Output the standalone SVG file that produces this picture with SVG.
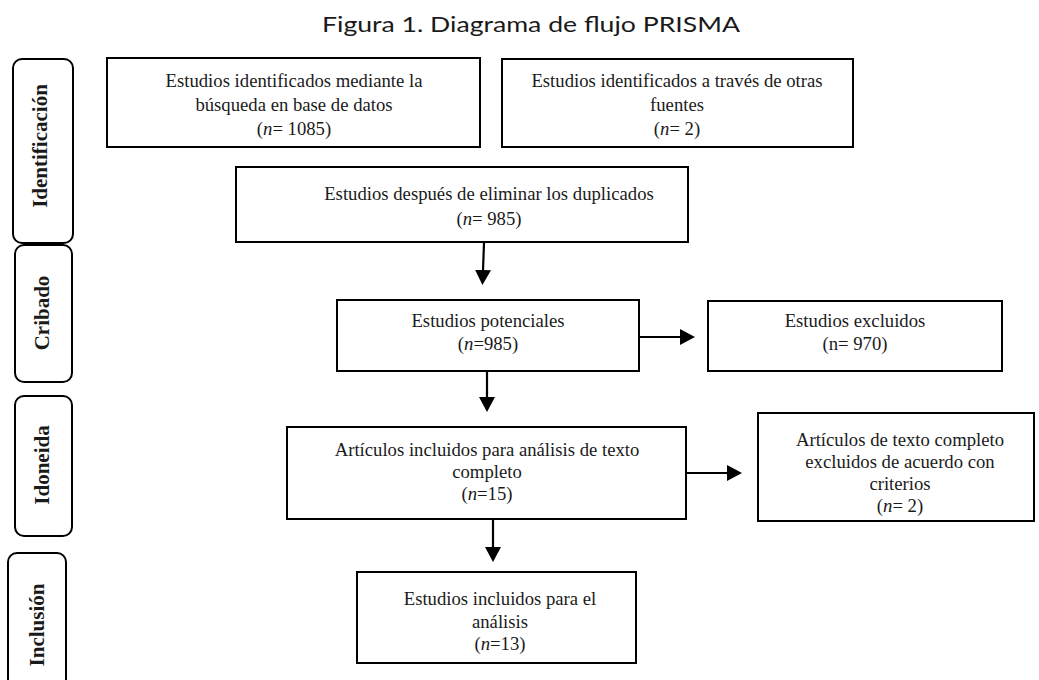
<svg xmlns="http://www.w3.org/2000/svg" width="1039" height="680" viewBox="0 0 1039 680">
<style>
.box{fill:#fff;stroke:#000;stroke-width:2}
.side{fill:#fff;stroke:#000;stroke-width:2}
.t{font-family:"Liberation Serif","Times New Roman",serif;font-size:18.7px;fill:#1a1a1a;text-anchor:middle}
.s{font-family:"Liberation Serif","Times New Roman",serif;font-size:21px;font-weight:bold;fill:#1a1a1a;text-anchor:middle}
.i{font-style:italic}
.title{font-family:Lato,"Open Sans",sans-serif;font-size:22px;fill:#1a1a1a;text-anchor:middle}
.c{stroke:#000;stroke-width:2.2;fill:none;marker-end:url(#ah)}
</style>
<defs>
<marker id="ah" viewBox="0 0 15 16" markerWidth="15" markerHeight="16" refX="0" refY="8" orient="auto" markerUnits="userSpaceOnUse">
<path d="M0,0 L15,8 L0,16 Z" fill="#000"/>
</marker>
</defs>
<rect width="1039" height="680" fill="#fff"/>
<text class="title" x="531" y="32" textLength="418" lengthAdjust="spacingAndGlyphs">Figura 1. Diagrama de flujo PRISMA</text>

<g id="stage-identificacion">
<rect class="side" x="13" y="59" width="60" height="184" rx="9"/>
<text class="s" transform="translate(47,146) rotate(-90)">Identificación</text>
</g>
<g id="stage-cribado">
<rect class="side" x="15" y="245" width="57" height="137" rx="9"/>
<text class="s" transform="translate(49,313) rotate(-90)">Cribado</text>
</g>
<g id="stage-idoneida">
<rect class="side" x="15" y="396" width="57" height="140" rx="9"/>
<text class="s" transform="translate(49,465) rotate(-90)">Idoneida</text>
</g>
<g id="stage-inclusion">
<rect class="side" x="8" y="553" width="58" height="150" rx="9"/>
<text class="s" transform="translate(44,625) rotate(-90)">Inclusión</text>
</g>

<g id="n-db">
<rect class="box" x="107" y="58" width="373" height="89"/>
<text class="t" x="294" y="87">Estudios identificados mediante la</text>
<text class="t" x="294" y="111">búsqueda en base de datos</text>
<text class="t" x="294" y="135">(<tspan class="i">n</tspan>= 1085)</text>
</g>
<g id="n-otras">
<rect class="box" x="502" y="59" width="351" height="88"/>
<text class="t" x="677" y="87">Estudios identificados a través de otras</text>
<text class="t" x="677" y="111">fuentes</text>
<text class="t" x="677" y="135">(<tspan class="i">n</tspan>= 2)</text>
</g>
<g id="n-dup">
<rect class="box" x="236" y="167" width="452" height="75"/>
<text class="t" x="489" y="200">Estudios después de eliminar los duplicados</text>
<text class="t" x="489" y="225">(<tspan class="i">n</tspan>= 985)</text>
</g>
<g id="n-pot">
<rect class="box" x="337" y="300" width="302" height="71"/>
<text class="t" x="488" y="327">Estudios potenciales</text>
<text class="t" x="488" y="350">(<tspan class="i">n</tspan>=985)</text>
</g>
<g id="n-excl">
<rect class="box" x="708" y="301" width="294" height="70"/>
<text class="t" x="855" y="327">Estudios excluidos</text>
<text class="t" x="855" y="350">(n= 970)</text>
</g>
<g id="n-full">
<rect class="box" x="287" y="427" width="399" height="92"/>
<text class="t" x="487" y="456">Artículos incluidos para análisis de texto</text>
<text class="t" x="487" y="478">completo</text>
<text class="t" x="487" y="500">(<tspan class="i">n</tspan>=15)</text>
</g>
<g id="n-fullexcl">
<rect class="box" x="758" y="413" width="276" height="108"/>
<text class="t" x="900" y="446">Artículos de texto completo</text>
<text class="t" x="900" y="468">excluidos de acuerdo con</text>
<text class="t" x="900" y="490">criterios</text>
<text class="t" x="900" y="512">(<tspan class="i">n</tspan>= 2)</text>
</g>
<g id="n-incl">
<rect class="box" x="357" y="572" width="279" height="91"/>
<text class="t" x="500" y="605">Estudios incluidos para el</text>
<text class="t" x="500" y="628">análisis</text>
<text class="t" x="500" y="650">(<tspan class="i">n</tspan>=13)</text>
</g>

<g id="connectors">
<line class="c" x1="484" y1="243" x2="483" y2="270"/>
<line class="c" x1="487" y1="372" x2="487" y2="397"/>
<line class="c" x1="640" y1="337" x2="680" y2="337"/>
<line class="c" x1="687" y1="473" x2="727" y2="473"/>
<line class="c" x1="493" y1="520" x2="493" y2="547"/>
</g>
</svg>
